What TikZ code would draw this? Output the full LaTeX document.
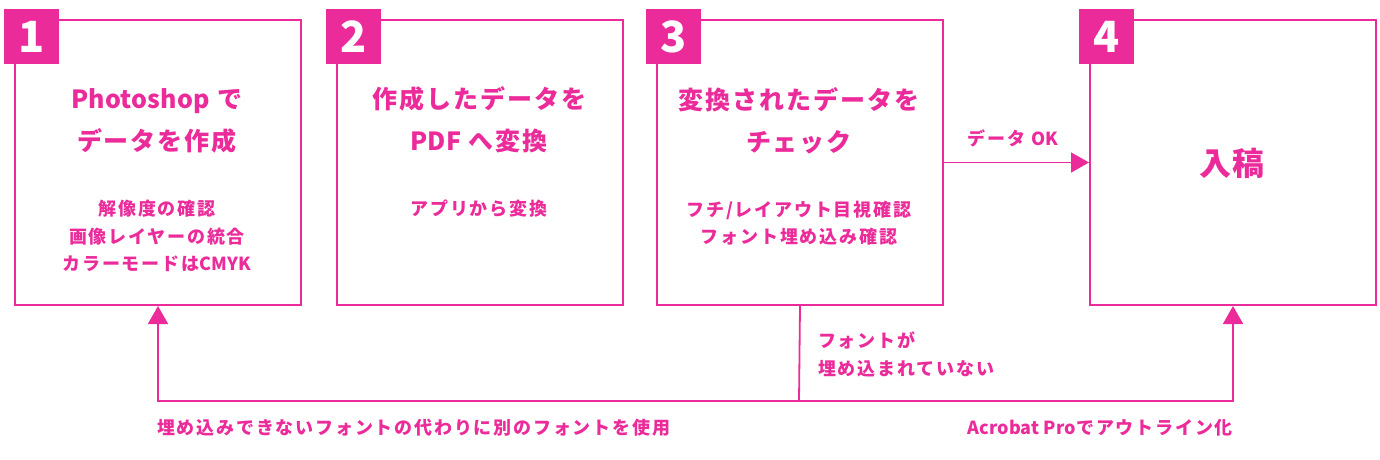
\documentclass[tikz,border=0pt]{standalone}
\usepackage{fontspec}
\setmainfont{Noto Sans CJK JP}
\usetikzlibrary{arrows.meta}
\definecolor{pk}{RGB}{236,43,155}
\newcommand{\lat}[1]{{\addfontfeatures{LetterSpace=1}#1}}
\tikzset{
 stepbox/.style={draw=pk,line width=2pt,minimum width=286pt,minimum height=285pt,anchor=north west,inner sep=0pt},
 badge/.style={fill=pk,text=white,minimum size=55pt,inner sep=0pt,anchor=north west,font=\fontsize{43}{43}\selectfont\bfseries},
 ttl/.style={text=pk,align=center,inner sep=0pt,font=\fontsize{25}{42}\selectfont\bfseries\addfontfeatures{LetterSpace=8}},
 subt/.style={text=pk,align=center,inner sep=0pt,font=\fontsize{18}{27.5}\selectfont\bfseries\addfontfeatures{LetterSpace=10}},
 lbl/.style={text=pk,inner sep=0pt,font=\fontsize{18}{28}\selectfont\bfseries\addfontfeatures{LetterSpace=10}},
 big/.style={text=pk,inner sep=0pt,font=\fontsize{32}{32}\selectfont\bfseries\addfontfeatures{LetterSpace=6}},
 conn/.style={draw=pk,line width=1.8pt},
 tip/.style={-{Triangle[length=18pt,width=20pt]}}
}
\begin{document}
\begin{tikzpicture}[x=1pt,y=-1pt]
\useasboundingbox (0,0) rectangle (1380,460);
% boxes
\node[stepbox] (b1) at (14,19) {};
\node[stepbox] (b2) at (336,19) {};
\node[stepbox] (b3) at (656,19) {};
\node[stepbox] (b4) at (1089,19) {};
% badges
\node[badge] (n1) at (4,9) {1};
\node[badge] (n2) at (326,9) {2};
\node[badge] (n3) at (646,9) {3};
\node[badge] (n4) at (1079,9) {4};
% texts box 1
\node[ttl] (t1) at (157,121) {\lat{Photoshop} で\\データを作成};
\node[subt] (s1) at (157,236) {解像度の確認\\画像レイヤーの統合\\カラーモードは\lat{CMYK}};
% box 2
\node[ttl] (t2) at (479,120) {作成したデータを\\\lat{PDF} へ変換};
\node[subt] (s2) at (479,209) {アプリから変換};
% box 3
\node[ttl] (t3) at (799,121) {変換されたデータを\\チェック};
\node[subt] (s3) at (799,223) {フチ/レイアウト目視確認\\フォント埋め込み確認};
% box 4
\node[big] (t4) at (1232,163) {入稿};
% connectors
\draw[conn,tip] (b3.east) -- (b4.west);
\node[lbl] (ok) at (1013,138) {データ \lat{OK}};
\coordinate (j) at (799,401);
\draw[conn] (b3.south) -- (j);
\draw[conn,tip] (j) -| (b1.south);
\draw[conn,tip] (j) -| (b4.south);
\node[lbl,align=left,anchor=west] (nf) at (818,354) {フォントが\\埋め込まれていない};
\node[lbl,anchor=west] (alt) at (157,428) {埋め込みできないフォントの代わりに別のフォントを使用};
\node[lbl,anchor=east] (acr) at (1233,428) {\lat{Acrobat Pro}でアウトライン化};
\end{tikzpicture}
\end{document}
